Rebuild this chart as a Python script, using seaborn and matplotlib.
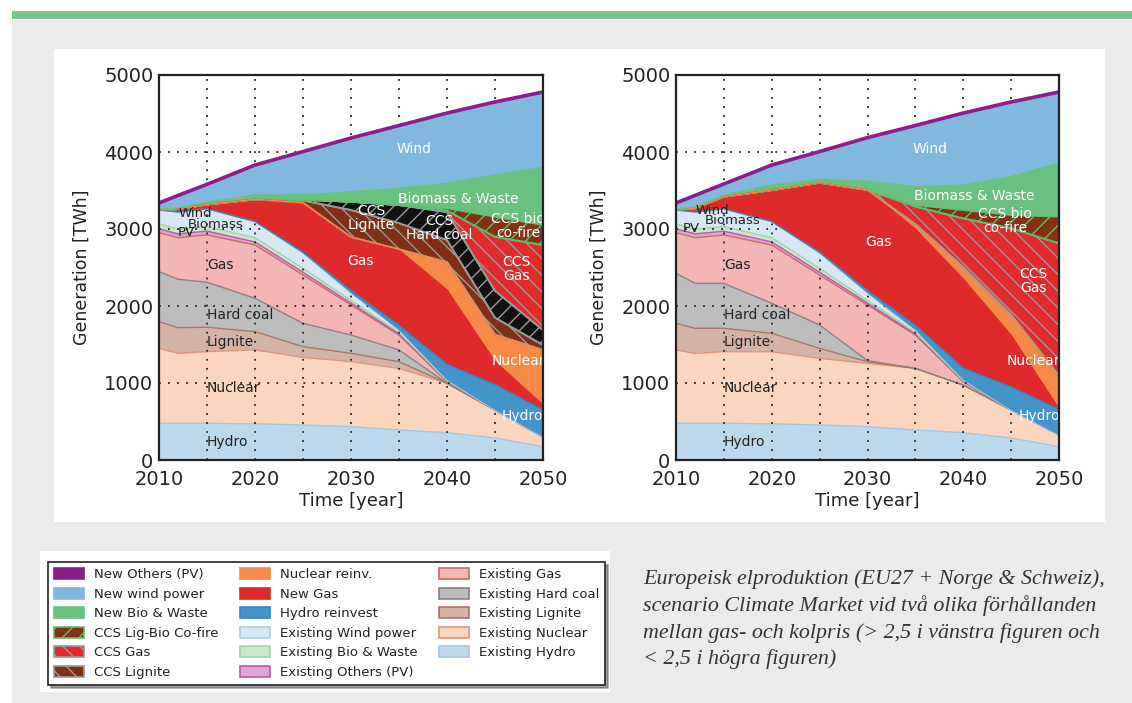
import numpy as np
import matplotlib
matplotlib.use("Agg")
import matplotlib.pyplot as plt
from matplotlib.patches import Rectangle, Patch
import seaborn as sns

sns.set_theme(style="white")
plt.rcParams["font.family"] = ["DejaVu Sans"]
plt.rcParams["hatch.linewidth"] = 1.0

years = [2010, 2012, 2015, 2020, 2025, 2030, 2035, 2040, 2045, 2050]

# ---- Scenario A: gas/coal price ratio > 2.5 (TWh per layer) ----
a_ex_hydro    = [477, 478, 477, 470, 455, 433, 390, 355, 286, 173]
a_ex_nuclear  = [973, 907, 931, 959, 878, 844, 800, 641, 363, 126]
a_ex_lignite  = [347, 334, 316, 238, 139, 108, 87, 0, 0, 0]
a_ex_hardcoal = [649, 628, 585, 433, 303, 238, 152, 0, 0, 0]
a_ex_gas      = [506, 540, 614, 692, 628, 390, 194, 20, 0, 0]
a_ex_pv       = [50, 50, 50, 40, 35, 25, 15, 5, 0, 0]
a_ex_bio      = [65, 60, 60, 55, 50, 35, 20, 10, 0, 0]
a_ex_wind     = [180, 223, 230, 210, 200, 96, 30, 10, 0, 0]
a_hydro_re    = [0, 0, 0, 0, 10, 30, 60, 200, 330, 350]
a_new_gas     = [0, 40, 57, 289, 644, 697, 979, 967, 300, 65]
a_nuclear_re  = [0, 0, 0, 0, 0, 0, 10, 363, 350, 715]
a_ccs_lignite = [0, 0, 0, 0, 30, 351, 340, 286, 220, 65]
a_ccs_hard    = [0, 0, 0, 0, 10, 108, 235, 363, 350, 194]
a_ccs_gas     = [0, 0, 0, 0, 0, 0, 0, 20, 700, 1104]
a_ccs_cofire  = [0, 0, 0, 0, 0, 0, 0, 30, 260, 260]
a_new_bio     = [10, 15, 30, 56, 60, 130, 216, 323, 542, 749]
a_new_wind    = [61, 137, 205, 364, 539, 672, 791, 888, 924, 953]
a_new_pv      = [20, 25, 25, 25, 25, 25, 25, 25, 25, 25]

# ---- Scenario B: gas/coal price ratio < 2.5 ----
b_ex_hydro    = [477, 478, 477, 470, 455, 433, 390, 355, 286, 173]
b_ex_nuclear  = [952, 907, 930, 937, 865, 822, 800, 619, 363, 152]
b_ex_lignite  = [346, 325, 303, 238, 130, 22, 0, 0, 0, 0]
b_ex_hardcoal = [649, 584, 584, 390, 303, 13, 0, 0, 0, 0]
b_ex_gas      = [528, 593, 628, 757, 650, 723, 433, 43, 0, 0]
b_ex_pv       = [50, 50, 50, 40, 35, 25, 15, 5, 0, 0]
b_ex_bio      = [65, 60, 60, 55, 50, 35, 20, 10, 0, 0]
b_ex_wind     = [180, 223, 230, 210, 200, 96, 30, 10, 0, 0]
b_hydro_re    = [0, 0, 0, 0, 10, 30, 60, 150, 300, 330]
b_new_gas     = [0, 50, 158, 409, 904, 1307, 1252, 1158, 671, 10]
b_nuclear_re  = [0, 0, 0, 0, 0, 0, 50, 140, 250, 416]
b_ccs_lignite = [0, 0, 0, 0, 0, 5, 15, 20, 20, 15]
b_ccs_hard    = [0, 0, 0, 0, 0, 0, 0, 0, 0, 0]
b_ccs_gas     = [0, 0, 0, 0, 0, 0, 227, 629, 1119, 1718]
b_ccs_cofire  = [0, 0, 0, 0, 0, 0, 20, 108, 173, 346]
b_new_bio     = [10, 15, 20, 65, 43, 109, 238, 324, 498, 693]
b_new_wind    = [61, 127, 120, 235, 336, 542, 769, 910, 945, 901]
b_new_pv      = [20, 25, 25, 25, 25, 25, 25, 25, 25, 25]

# layer styles, bottom to top: (key, face, edge, hatch, existing?)
styles = [
    ("ex_hydro",    "#bcd9ec", "#a3c6df", None, True),
    ("ex_nuclear",  "#fcd5be", "#e0957a", None, True),
    ("ex_lignite",  "#d6b3a7", "#a9756a", None, True),
    ("ex_hardcoal", "#bdbdbd", "#8a8080", None, True),
    ("ex_gas",      "#f4b5b5", "#c86a6a", None, True),
    ("ex_pv",       "#dda6d6", "#c056a6", None, True),
    ("ex_bio",      "#cbe8cc", "#9fd3a5", None, True),
    ("ex_wind",     "#d6e8f3", "#a9cde6", None, True),
    ("hydro_re",    "#4394cb", "#3a86bd", None, False),
    ("new_gas",     "#df2a2c", "#df2a2c", None, False),
    ("nuclear_re",  "#f68a46", "#f68a46", None, False),
    ("ccs_lignite", "#7e2f14", "#9a9a9a", "\\\\", False),
    ("ccs_hard",    "#111111", "#9a9a9a", "//", False),
    ("ccs_gas",     "#e02a2c", "#9a9a9a", "\\\\", False),
    ("ccs_cofire",  "#853014", "#5cbf6a", "//", False),
    ("new_bio",     "#6ac17e", "#6ac17e", None, False),
    ("new_wind",    "#80b9dd", "#80b9dd", None, False),
    ("new_pv",      "#8c1d89", "#8c1d89", None, False),
]

scen_a = {k[2:]: v for k, v in globals().items() if k.startswith("a_")}
scen_b = {k[2:]: v for k, v in globals().items() if k.startswith("b_")}

fig = plt.figure(figsize=(11.32, 7.03), dpi=100)
fig.patch.set_facecolor("white")
W, H = 1132, 703


def fbox(x0, y0, x1, y1):
    return (x0 / W, 1 - y1 / H, (x1 - x0) / W, (y1 - y0) / H)


# page furniture: grey card, green rule, white plot panel, white legend panel
for box, col in [(fbox(12, 20, 1132, 703), "#ebebeb"),
                 (fbox(12, 11, 1132, 19), "#80bf88"),
                 (fbox(54, 49, 1105, 522), "white"),
                 (fbox(40, 551, 610, 692), "white")]:
    fig.add_artist(Rectangle(box[:2], box[2], box[3], transform=fig.transFigure,
                             facecolor=col, edgecolor="none", zorder=-10))


def draw_panel(ax, data, labels):
    x = np.array(years, dtype=float)
    base = np.zeros_like(x)
    for key, face, edge, hatch, existing in styles:
        vals = np.array(data[key], dtype=float)
        top = base + vals
        z = 1 if existing else 2
        if hatch:
            ax.fill_between(x, base, top, facecolor=face, edgecolor=edge,
                            hatch=hatch, linewidth=1.4, zorder=z)
        else:
            ax.fill_between(x, base, top, facecolor=face, edgecolor="none",
                            linewidth=0, zorder=z)
            if vals.max() > 0:
                ax.plot(x, top, color=edge, lw=1.0, zorder=z + 0.1)
        base = top
    # total generation outline
    sns.lineplot(x=x, y=base, ax=ax, color="#8c1d89", lw=2.6, zorder=3)

    # dotted grid sits over the existing fleet but under the new build
    for gx in range(2015, 2050, 5):
        ax.axvline(gx, color="#222222", ls=(0, (1, 4)), lw=1.3, zorder=1.5)
    for gy in range(1000, 5000, 1000):
        ax.axhline(gy, color="#222222", ls=(0, (1, 4)), lw=1.3, zorder=1.5)

    for (tx, ty, txt, col, ha, fs) in labels:
        ax.text(tx, ty, txt, color=col, fontsize=fs, ha=ha, va="center",
                linespacing=1.0, zorder=6)

    ax.set_xlim(2010, 2050)
    ax.set_ylim(0, 5000)
    ax.set_xticks(range(2010, 2051, 10))
    ax.set_yticks(range(0, 5001, 1000))
    ax.tick_params(direction="in", length=5, width=1.2, labelsize=14,
                   labelcolor="#222222", pad=4)
    ax.tick_params(axis="x", pad=7)
    for s in ax.spines.values():
        s.set_color("#222222")
        s.set_linewidth(1.6)
        s.set_zorder(7)
    ax.set_xlabel("Time [year]", fontsize=13, color="#222222", labelpad=2)
    ax.set_ylabel("Generation [TWh]", fontsize=12.5, color="#222222", labelpad=10)
    ax.set_facecolor("white")


WHITE, DARK = "white", "#222222"
labels_a = [
    (2036.6, 4039, "Wind", WHITE, "center", 10),
    (2041.2, 3390, "Biomass & Waste", WHITE, "center", 10),
    (2032.1, 3143, "CCS\nLignite", WHITE, "center", 10),
    (2039.2, 3013, "CCS\nHard coal", WHITE, "center", 10),
    (2047.4, 3039, "CCS bio\nco-fire", WHITE, "center", 10),
    (2047.2, 2480, "CCS\nGas", WHITE, "center", 10),
    (2031.0, 2584, "Gas", WHITE, "center", 10),
    (2047.4, 1286, "Nuclear", WHITE, "center", 10),
    (2047.8, 571, "Hydro", WHITE, "center", 10),
    (2012.0, 3200, "Wind", DARK, "left", 9.5),
    (2013.0, 3062, "Biomass", DARK, "left", 9.5),
    (2012.0, 2955, "PV", DARK, "left", 9.5),
    (2015.0, 2532, "Gas", DARK, "left", 10),
    (2015.0, 1883, "Hard coal", DARK, "left", 10),
    (2015.0, 1532, "Lignite", DARK, "left", 10),
    (2015.0, 935, "Nuclear", DARK, "left", 10),
    (2015.0, 234, "Hydro", DARK, "left", 10),
]
labels_b = [
    (2036.5, 4039, "Wind", WHITE, "center", 10),
    (2041.2, 3429, "Biomass & Waste", WHITE, "center", 10),
    (2044.4, 3110, "CCS bio\nco-fire", WHITE, "center", 10),
    (2031.1, 2831, "Gas", WHITE, "center", 10),
    (2047.3, 2330, "CCS\nGas", WHITE, "center", 10),
    (2047.3, 1286, "Nuclear", WHITE, "center", 10),
    (2047.9, 571, "Hydro", WHITE, "center", 10),
    (2012.0, 3245, "Wind", DARK, "left", 9.5),
    (2013.0, 3115, "Biomass", DARK, "left", 9.5),
    (2010.7, 3005, "PV", DARK, "left", 9.5),
    (2015.0, 2532, "Gas", DARK, "left", 10),
    (2015.0, 1883, "Hard coal", DARK, "left", 10),
    (2015.0, 1532, "Lignite", DARK, "left", 10),
    (2015.0, 935, "Nuclear", DARK, "left", 10),
    (2015.0, 234, "Hydro", DARK, "left", 10),
]

ax1 = fig.add_axes(fbox(159, 75, 543, 460))
ax2 = fig.add_axes(fbox(676, 75, 1059, 460))
draw_panel(ax1, scen_a, labels_a)
draw_panel(ax2, scen_b, labels_b)

# legend
style_map = {s[0]: s for s in styles}
legend_items = [
    ("new_pv", "New Others (PV)"), ("new_wind", "New wind power"),
    ("new_bio", "New Bio & Waste"), ("ccs_cofire", "CCS Lig-Bio Co-fire"),
    ("ccs_gas", "CCS Gas"), ("ccs_lignite", "CCS Lignite"),
    ("nuclear_re", "Nuclear reinv."), ("new_gas", "New Gas"),
    ("hydro_re", "Hydro reinvest"), ("ex_wind", "Existing Wind power"),
    ("ex_bio", "Existing Bio & Waste"), ("ex_pv", "Existing Others (PV)"),
    ("ex_gas", "Existing Gas"), ("ex_hardcoal", "Existing Hard coal"),
    ("ex_lignite", "Existing Lignite"), ("ex_nuclear", "Existing Nuclear"),
    ("ex_hydro", "Existing Hydro"),
]
handles = []
for key, lab in legend_items:
    _, face, edge, hatch, _ = style_map[key]
    handles.append(Patch(facecolor=face, edgecolor=edge, hatch=hatch,
                         linewidth=1.2, label=lab))
leg = fig.legend(handles=handles, ncol=3, loc="upper left",
                 bbox_to_anchor=(48 / W, 1 - 562 / H), frameon=True,
                 fancybox=False, shadow=True, fontsize=9.5,
                 handlelength=2.3, handleheight=0.9, labelspacing=0.5,
                 columnspacing=1.6, borderpad=0.45, handletextpad=0.75,
                 borderaxespad=0)
leg.get_frame().set_edgecolor("#222222")
leg.get_frame().set_linewidth(1.2)
for t in leg.get_texts():
    t.set_color("#222222")

caption = ("Europeisk elproduktion (EU27 + Norge & Schweiz),\n"
           "scenario Climate Market vid två olika förhållanden\n"
           "mellan gas- och kolpris (> 2,5 i vänstra figuren och\n"
           "< 2,5 i högra figuren)")
fig.text(643 / W, 1 - 569 / H, caption, ha="left", va="top", fontsize=15.8,
         style="italic", family="Liberation Serif", color="#333333",
         linespacing=1.43)

fig.savefig("out.png", dpi=100)
